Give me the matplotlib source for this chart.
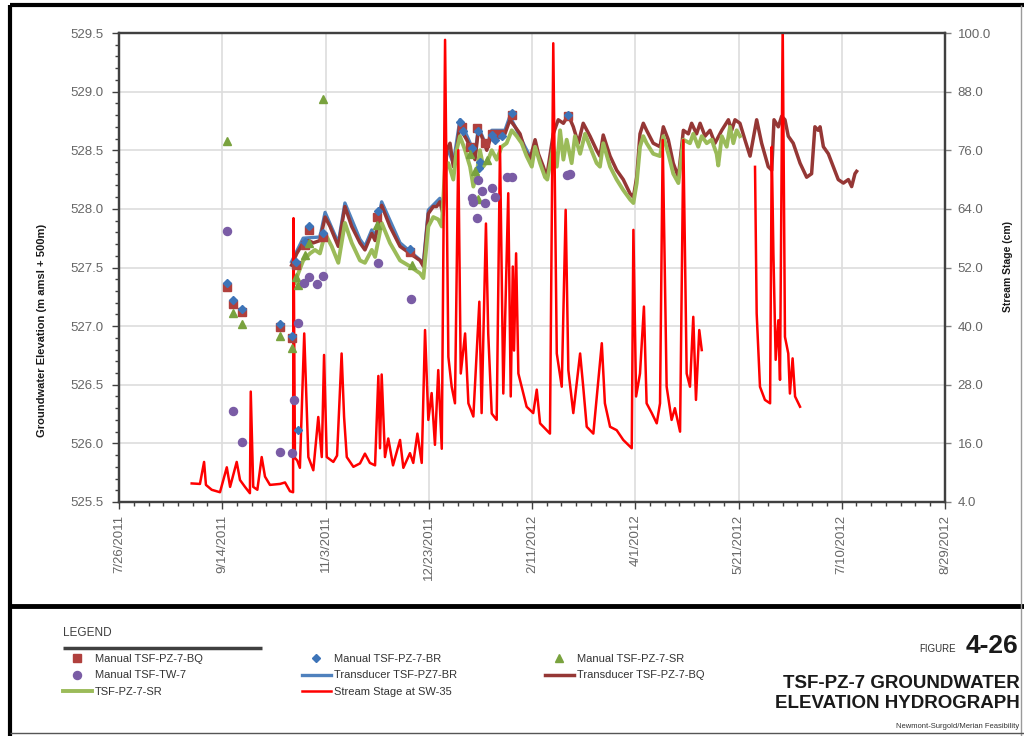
import numpy as np
import matplotlib
matplotlib.use("Agg")
import matplotlib.pyplot as plt
import matplotlib.dates as mdates
from matplotlib.lines import Line2D
from matplotlib.ticker import MultipleLocator, FixedLocator, FuncFormatter

# Day offsets are counted from the first day on the date axis
T0 = np.datetime64("2011-07-26T00:00")
T_END = np.datetime64("2012-08-29T00:00")

# Stream stage at SW-35 (cm); NaN marks the logger gap in May 2012
stage_day = [35.2, 39.2, 41.2, 42.1, 44.9, 48.9, 52.2, 53.8, 57.0, 58.6, 61.0, 63.4,
             63.8, 65.0, 67.0, 69.1, 70.7, 73.1, 78.0, 80.4, 82.8, 84.3, 84.5, 85.2,
             86.3, 87.6, 89.7, 91.7, 94.1, 96.5, 98.2, 99.3, 100.6, 103.8, 105.6, 107.8,
             109.0, 110.3, 113.5, 116.7, 119.1, 121.5, 124.0, 125.6, 126.4, 127.2, 128.8,
             130.4, 132.7, 136.1, 137.7, 140.9, 142.5, 144.5, 146.6, 148.2, 149.8, 151.4,
             153.0, 154.6, 156.3, 157.9, 159.5, 161.1, 162.7, 164.3, 165.5, 167.6, 169.2,
             171.6, 174.5, 175.6, 177.7, 178.8, 180.5, 182.9, 184.5, 186.1, 188.5, 189.7,
             190.7, 191.3, 192.3, 193.4, 195.0, 197.4, 200.6, 202.3, 203.9, 205.5, 208.7,
             210.3, 212.0, 214.4, 216.3, 217.6, 220.0, 223.3, 224.8, 226.5, 229.7, 233.8,
             235.3, 237.8, 241.0, 244.2, 248.3, 249.1, 250.4, 252.3, 254.2, 255.5, 258.0,
             260.4, 262.0, 263.3, 265.2, 267.6, 269.2, 271.7, 273.3, 274.9, 276.5, 278.1,
             279.4, 281.0, 282.2, 295.0, 308.0, 308.8, 310.4, 312.8, 315.3, 316.1, 316.9,
             318.0, 319.3, 320.1, 321.4, 322.5, 324.1, 324.9, 326.2, 327.4, 329.8]
stage_cm = [7.8, 7.7, 12.2, 7.5, 6.5, 6.0, 11.1, 7.1, 12.2, 8.5, 7.1, 5.8,
            26.6, 7.1, 6.5, 13.2, 9.2, 7.5, 7.7, 8.0, 6.2, 6.0, 62.1, 13.0,
            12.5, 11.0, 38.5, 13.2, 10.5, 21.4, 13.2, 34.1, 13.2, 12.2, 13.5, 34.4,
            21.4, 13.2, 11.2, 11.9, 13.9, 12.0, 11.5, 29.8, 15.0, 30.1, 13.2,
            17.0, 11.5, 16.7, 11.0, 14.0, 12.0, 18.0, 12.0, 39.2, 20.8, 26.3,
            15.7, 31.0, 14.9, 98.6, 33.7, 27.6, 24.2, 76.0, 30.3, 38.5, 24.2,
            21.5, 45.0, 22.2, 61.0, 38.5, 22.1, 20.8, 76.8, 26.2, 67.2, 25.6,
            52.2, 35.0, 54.9, 30.3, 27.6, 23.5, 22.2, 27.0, 20.1, 19.4, 18.0,
            97.9, 34.4, 27.6, 63.8, 31.0, 22.2, 34.4, 27.6, 19.4, 18.0, 36.5,
            24.2, 19.4, 18.7, 16.7, 15.0, 59.7, 25.6, 30.3, 44.0, 24.2, 22.2,
            20.1, 24.2, 78.1, 27.6, 20.8, 23.2, 18.4, 78.1, 30.3, 27.6, 41.9,
            24.9, 39.2, 35.1, np.nan, 72.6, 42.6, 27.6, 24.9, 24.2, 76.7, 54.9,
            33.1, 41.2, 29.0, 102.0, 37.8, 34.4, 26.2, 33.4, 25.6, 23.5]

# Transducer TSF-PZ-7-BQ (m amsl + 500 m)
bq_day = [83.6, 86.1, 89.2, 91.7, 94.1, 97.3, 99.8, 102.2, 106.2, 109.4, 112.7, 116.7,
          119.1, 122.4, 124.0, 127.2, 131.2, 136.1, 140.9, 145.8, 147.4, 149.8, 152.2,
          153.8, 155.4, 157.0, 158.7, 160.3, 161.9, 163.5, 165.1, 166.7, 168.4, 170.8,
          172.4, 174.0, 175.6, 178.1, 180.5, 182.1, 184.5, 186.9, 189.3, 191.8, 194.2,
          196.6, 199.0, 201.5, 203.1, 205.5, 207.1, 210.3, 212.7, 215.2, 217.6, 220.0,
          222.4, 224.8, 228.1, 231.3, 232.9, 234.5, 237.8, 241.0, 244.2, 247.5, 249.1,
          250.7, 252.3, 253.9, 255.5, 258.7, 262.0, 263.6, 266.0, 268.4, 270.9, 273.3,
          275.7, 277.3, 279.7, 281.4, 283.8, 286.2, 288.6, 291.9, 295.1, 296.7, 298.3,
          300.7, 303.1, 305.6, 308.8, 311.2, 314.4, 316.1, 317.2, 319.3, 320.9, 322.5,
          324.1, 326.5, 329.8, 333.0, 335.4, 337.0, 338.6, 339.5, 341.1, 343.5, 345.9,
          348.3, 350.8, 353.2, 354.8, 356.4, 357.2]
bq_elev = [527.52, 527.62, 527.71, 527.73, 527.71, 527.73, 527.93, 527.85, 527.68, 528.02,
           527.85, 527.71, 527.65, 527.79, 527.73, 528.03, 527.85, 527.68, 527.62, 527.56,
           527.51, 527.96, 528.02, 528.02, 528.06, 527.95, 528.50, 528.56, 528.36, 528.50,
           528.73, 528.64, 528.59, 528.50, 528.42, 528.67, 528.62, 528.50, 528.64, 528.62,
           528.63, 528.64, 528.76, 528.70, 528.64, 528.50, 528.42, 528.59, 528.47, 528.36,
           528.27, 528.64, 528.76, 528.73, 528.80, 528.70, 528.56, 528.73, 528.62, 528.50,
           528.45, 528.63, 528.45, 528.33, 528.25, 528.13, 528.10, 528.27, 528.64, 528.73,
           528.67, 528.56, 528.53, 528.70, 528.59, 528.39, 528.27, 528.67, 528.64, 528.73,
           528.64, 528.73, 528.62, 528.67, 528.56, 528.67, 528.76, 528.67, 528.76, 528.73,
           528.59, 528.45, 528.76, 528.56, 528.36, 528.33, 528.76, 528.70, 528.79, 528.76,
           528.62, 528.56, 528.39, 528.27, 528.30, 528.70, 528.67, 528.70, 528.53, 528.47,
           528.36, 528.25, 528.22, 528.25, 528.19, 528.30, 528.32]

# Transducer TSF-PZ7-BR
br_day = [83.6, 89.2, 97.3, 99.8, 106.2, 109.4, 116.7, 119.1, 122.4, 124.0, 127.2,
          136.1, 147.4, 149.8, 155.4, 157.0, 158.7, 161.9, 165.1, 170.8, 172.4, 174.0,
          178.1, 180.5, 186.9, 189.3, 196.6, 199.0]
br_elev = [527.55, 527.75, 527.76, 527.97, 527.71, 528.05, 527.74, 527.68, 527.82, 527.76,
           528.06, 527.71, 527.54, 527.99, 528.09, 527.98, 528.53, 528.39, 528.76, 528.53,
           528.45, 528.70, 528.53, 528.67, 528.67, 528.79, 528.53, 528.45]

# Transducer TSF-PZ-7-SR
sr_day = [85.2, 86.8, 89.2, 92.5, 94.9, 97.3, 99.8, 103.0, 106.2, 109.4, 112.7, 116.7,
          119.1, 122.4, 124.0, 127.2, 131.2, 136.1, 140.9, 145.8, 147.4, 149.8, 152.2,
          154.6, 156.3, 157.9, 159.5, 161.9, 163.5, 165.1, 167.6, 170.0, 171.6, 173.2,
          174.8, 176.4, 178.8, 180.5, 182.9, 185.3, 187.7, 190.2, 192.6, 195.0, 197.4,
          199.9, 201.5, 203.9, 206.3, 207.4, 210.3, 212.0, 213.6, 215.2, 216.8, 219.2,
          220.8, 223.3, 225.7, 228.1, 231.3, 232.9, 234.5, 237.8, 241.0, 244.2, 247.5,
          249.1, 250.7, 252.3, 253.9, 255.5, 258.7, 262.0, 263.6, 266.0, 268.4, 270.9,
          273.3, 276.5, 278.1, 280.5, 282.2, 284.6, 287.0, 289.4, 290.2, 291.9, 294.3,
          295.9, 297.5, 299.1, 300.7]
sr_elev = [527.37, 527.45, 527.56, 527.62, 527.65, 527.62, 527.79, 527.68, 527.54, 527.88,
           527.71, 527.56, 527.54, 527.65, 527.59, 527.88, 527.71, 527.56, 527.51, 527.45,
           527.41, 527.85, 527.93, 527.91, 527.85, 528.36, 528.39, 528.25, 528.50, 528.62,
           528.50, 528.36, 528.19, 528.30, 528.50, 528.36, 528.42, 528.50, 528.42, 528.53,
           528.56, 528.67, 528.62, 528.56, 528.45, 528.36, 528.53, 528.39, 528.27, 528.25,
           528.53, 528.36, 528.67, 528.42, 528.59, 528.39, 528.62, 528.47, 528.64, 528.53,
           528.39, 528.36, 528.56, 528.36, 528.25, 528.16, 528.08, 528.05, 528.22, 528.53,
           528.62, 528.56, 528.47, 528.45, 528.62, 528.47, 528.30, 528.22, 528.59, 528.56,
           528.64, 528.53, 528.62, 528.56, 528.59, 528.47, 528.37, 528.62, 528.53, 528.70,
           528.56, 528.67, 528.62]

# Manual water level readings
man_bq_day = [52.2, 55.4, 59.7, 78.0, 83.6, 85.7, 90.1, 92.0, 98.9, 124.8, 140.9,
              166.3, 170.0, 173.2, 177.2, 180.5, 184.5, 190.2, 217.6]
man_bq_elev = [527.33, 527.19, 527.12, 526.99, 526.90, 527.52, 527.69, 527.82, 527.76,
               527.93, 527.63, 528.70, 528.53, 528.69, 528.56, 528.64, 528.64, 528.80, 528.79]

man_br_day = [52.2, 55.4, 59.7, 78.0, 83.6, 85.7, 86.8, 90.1, 92.0, 98.9, 125.6, 140.9,
              165.1, 166.7, 170.8, 174.0, 174.8, 174.1, 180.5, 182.1, 185.3, 190.2, 217.6]
man_br_elev = [527.37, 527.22, 527.15, 527.02, 526.92, 527.55, 526.11, 527.72, 527.85,
               527.79, 527.98, 527.66, 528.74, 528.66, 528.52, 528.66, 528.40, 528.35,
               528.63, 528.59, 528.62, 528.82, 528.80]

man_sr_day = [52.5, 55.4, 59.7, 78.0, 83.6, 85.7, 86.8, 90.1, 92.0, 98.9, 124.8, 141.7,
              170.0, 172.4, 174.0, 178.1]
man_sr_elev = [528.58, 527.11, 527.02, 526.92, 526.81, 527.42, 527.35, 527.61, 527.71,
               528.94, 527.86, 527.52, 528.47, 528.32, 528.08, 528.42]

man_tw_day = [52.2, 55.4, 59.4, 78.0, 83.6, 84.9, 86.5, 89.7, 92.1, 95.7, 98.9, 125.6,
              141.4, 170.8, 171.6, 173.2, 174.0, 175.6, 177.2, 180.5, 182.1, 187.7, 190.2,
              216.8, 218.4]
man_tw_elev = [527.81, 526.28, 526.01, 525.93, 525.92, 526.37, 527.03, 527.37, 527.42,
               527.36, 527.43, 527.54, 527.23, 528.09, 528.06, 527.92, 528.25, 528.15,
               528.05, 528.18, 528.10, 528.27, 528.27, 528.29, 528.30]

date_ticks = ["2011-07-26", "2011-09-14", "2011-11-03", "2011-12-23", "2012-02-11",
              "2012-04-01", "2012-05-21", "2012-07-10", "2012-08-29"]
stage_ticks = [4, 16, 28, 40, 52, 64, 76, 88, 100]


def to_dates(days):
    minutes = np.round(np.asarray(days, dtype=float) * 1440).astype(np.int64)
    return T0 + minutes.astype("timedelta64[m]")


C_BQ = "#953735"
C_BR = "#4F81BD"
C_SR = "#9BBB59"
C_STAGE = "#FF0000"
C_MAN_BQ = "#B0403D"
C_MAN_BR = "#3D74B8"
C_MAN_SR = "#79A23E"
C_MAN_TW = "#7A5CA5"
TICK_GREY = "#666666"

plt.rcParams["font.family"] = ["Liberation Sans", "DejaVu Sans"]

W, H = 1024, 736
fig = plt.figure(figsize=(W / 100, H / 100), dpi=100, facecolor="white")


def fx(px):
    return px / W


def fy(py):
    return 1 - py / H


ax = fig.add_axes([fx(119), fy(502), fx(826), 469 / H])
ax2 = ax.twinx()
ax3 = ax.twinx()  # manual readings sit above the stage trace

# groundwater transducers
l_br, = ax.plot(to_dates(br_day), br_elev, color=C_BR, lw=2.4, zorder=2)
l_bq, = ax.plot(to_dates(bq_day), bq_elev, color=C_BQ, lw=2.5, zorder=3)
l_sr, = ax.plot(to_dates(sr_day), sr_elev, color=C_SR, lw=2.8, zorder=4)

# stream stage on the secondary axis
l_stage, = ax2.plot(to_dates(stage_day), stage_cm, color=C_STAGE, lw=1.8)

# manual readings
m_bq, = ax3.plot(to_dates(man_bq_day), man_bq_elev, ls="none", marker="s", ms=5.2,
                 color=C_MAN_BQ, mec=C_MAN_BQ)
m_br, = ax3.plot(to_dates(man_br_day), man_br_elev, ls="none", marker="D", ms=4.5,
                 color=C_MAN_BR, mec=C_MAN_BR)
m_sr, = ax3.plot(to_dates(man_sr_day), man_sr_elev, ls="none", marker="^", ms=5.5,
                 color=C_MAN_SR, mec=C_MAN_SR)
m_tw, = ax3.plot(to_dates(man_tw_day), man_tw_elev, ls="none", marker="o", ms=5.8,
                 color=C_MAN_TW, mec=C_MAN_TW)

# axes limits and ticks
x0 = mdates.date2num(T0)
x1 = mdates.date2num(T_END)
for a in (ax, ax2, ax3):
    a.set_xlim(x0, x1)
ax.set_ylim(525.5, 529.5)
ax3.set_ylim(525.5, 529.5)
ax2.set_ylim(4, 100)
ax3.set_axis_off()

ax.xaxis.set_major_locator(FixedLocator(mdates.date2num(np.array(date_ticks, dtype="datetime64[D]"))))
ax.xaxis.set_minor_locator(FixedLocator(np.arange(x0, x1 + 0.01, 50 / 7)))
ax.xaxis.set_major_formatter(FuncFormatter(
    lambda v, pos: f"{mdates.num2date(v).month}/{mdates.num2date(v).day}/{mdates.num2date(v).year}"))
ax.yaxis.set_major_locator(MultipleLocator(0.5))
ax.yaxis.set_minor_locator(MultipleLocator(0.1))
ax.yaxis.set_major_formatter(FuncFormatter(lambda v, pos: f"{v:.1f}"))
ax2.yaxis.set_major_locator(FixedLocator(stage_ticks))
ax2.yaxis.set_major_formatter(FuncFormatter(lambda v, pos: f"{v:.1f}"))

ax.grid(True, which="major", color="#DDDDDD", lw=1.2)
ax.set_axisbelow(True)

for a in (ax, ax2):
    for s in a.spines.values():
        s.set_color("#404040")
        s.set_linewidth(1.6)

ax.tick_params(axis="x", which="major", direction="out", length=5, width=1, color="#404040",
               labelsize=9.5, labelcolor=TICK_GREY, labelrotation=90, pad=4)
ax.tick_params(axis="x", which="minor", direction="out", length=3, width=1, color="#404040")
ax.tick_params(axis="y", which="major", direction="out", length=5, width=1, color="#404040",
               labelsize=9.5, labelcolor=TICK_GREY, pad=6)
ax.tick_params(axis="y", which="minor", direction="out", length=3, width=1, color="#404040")
ax2.tick_params(axis="y", which="major", direction="out", length=4, width=1, color="#808080",
                labelsize=9.5, labelcolor=TICK_GREY, pad=5)
for lab in ax.get_xticklabels():
    lab.set_va("top")
    lab.set_ha("center")

fig.text(fx(42), fy(330), "Groundwater Elevation (m amsl + 500m)", rotation=90,
         ha="center", va="center", fontsize=8, fontweight="bold", color="#1A1A1A")
fig.text(fx(1008), fy(267), "Stream Stage (cm)", rotation=90, ha="center", va="center",
         fontsize=7.5, fontweight="bold", color="#1A1A1A")

# page frame and divider between chart and title block
frame = dict(transform=fig.transFigure, solid_capstyle="butt")
fig.add_artist(Line2D([fx(10), fx(1024)], [fy(5), fy(5)], color="black", lw=3, **frame))
fig.add_artist(Line2D([fx(10), fx(10)], [fy(5), fy(736)], color="black", lw=3, **frame))
fig.add_artist(Line2D([fx(10), fx(1024)], [fy(606), fy(606)], color="black", lw=3.5, **frame))
fig.add_artist(Line2D([fx(1021), fx(1021)], [fy(5), fy(736)], color="#9A9A9A", lw=1, **frame))
fig.add_artist(Line2D([fx(10), fx(1024)], [fy(733), fy(733)], color="#555555", lw=1, **frame))

# legend block
fig.text(fx(63), fy(633), "LEGEND", ha="left", va="center", fontsize=8.5, color="#404040")
fig.add_artist(Line2D([fx(63), fx(262)], [fy(648), fy(648)], color="#404040", lw=2.5, **frame))

columns = [
    (63, [(m_bq, "Manual TSF-PZ-7-BQ"), (m_tw, "Manual TSF-TW-7"), (l_sr, "TSF-PZ-7-SR")]),
    (302, [(m_br, "Manual TSF-PZ-7-BR"), (l_br, "Transducer TSF-PZ7-BR"),
           (l_stage, "Stream Stage at SW-35")]),
    (545, [(m_sr, "Manual TSF-PZ-7-SR"), (l_bq, "Transducer TSF-PZ-7-BQ")]),
]
for left, entries in columns:
    fig.legend([e[0] for e in entries], [e[1] for e in entries], loc="upper left",
               bbox_to_anchor=(fx(left), fy(654)), frameon=False, borderpad=0,
               borderaxespad=0, handlelength=2.6, handletextpad=0.25, labelspacing=0.58,
               numpoints=1, labelcolor="#333333", prop={"size": 8})

# title block
fig.text(fx(956), fy(649), "FIGURE", ha="right", va="center", fontsize=7, color="#333333")
fig.text(fx(1018), fy(646), "4-26", ha="right", va="center", fontsize=19,
         fontweight="bold", color="#1A1A1A")
fig.text(fx(1020), fy(683), "TSF-PZ-7 GROUNDWATER", ha="right", va="center", fontsize=13.5,
         fontweight="bold", color="#1A1A1A")
fig.text(fx(1020), fy(704), "ELEVATION HYDROGRAPH", ha="right", va="center", fontsize=13.5,
         fontweight="bold", color="#1A1A1A")
fig.text(fx(1019), fy(727), "Newmont-Surgold/Merian Feasibility", ha="right", va="center",
         fontsize=5.5, color="#333333")

fig.savefig("out.png", dpi=100, facecolor="white")
